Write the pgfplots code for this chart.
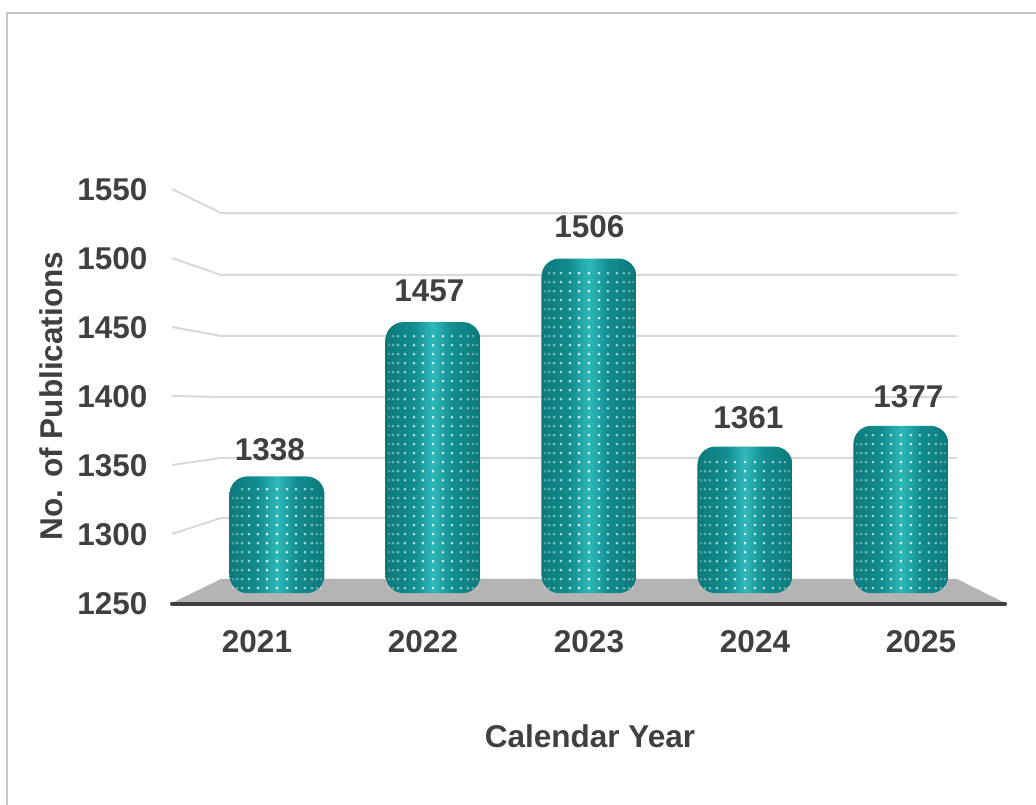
\documentclass[border=0pt]{standalone}
\usepackage{fontspec}
\setmainfont{Liberation Sans}
\usepackage{pgfplots}
\usepackage{pgfplotstable}
\pgfplotsset{compat=1.18}
\usetikzlibrary{fadings}

\definecolor{txt}{HTML}{404040}
\definecolor{gridc}{HTML}{D9D9D9}
\definecolor{floorc}{HTML}{B4B4B4}
\definecolor{frame}{HTML}{C8C8C8}
\definecolor{tealA}{HTML}{063F40}
\definecolor{tealB}{HTML}{0A5859}
\definecolor{tealC}{HTML}{0C7476}
\definecolor{tealD}{HTML}{128E90}
\definecolor{tealE}{HTML}{2FB8B9}

\pgfdeclarehorizontalshading{barshade}{100bp}{
  color(0bp)=(tealA); color(6bp)=(tealB); color(22bp)=(tealC);
  color(40bp)=(tealD); color(50bp)=(tealE); color(60bp)=(tealD);
  color(78bp)=(tealC); color(94bp)=(tealB); color(100bp)=(tealA)}
\pgfdeclareverticalshading{bevelmask}{100bp}{
  color(0bp)=(pgftransparent!35); color(6bp)=(pgftransparent!100);
  color(94bp)=(pgftransparent!100); color(100bp)=(pgftransparent!35)}
\begin{tikzfadingfrompicture}[name=bevel]
  \shade[shading=bevelmask] (-50bp,-50bp) rectangle (50bp,50bp);
\end{tikzfadingfrompicture}

% year, publications, label offset from bar top (in px)
\pgfplotstableread{
year n    dx   dy
2021 1338 -7   27
2022 1457 -3.5 31
2023 1506 0.5  32
2024 1361 3.5  29
2025 1377 7.5  29
}\bars

% one bar per plot, so that the shading fits each bar and not the whole row
\newcommand\onebar[1]{%
  \addplot[ybar, bar width=95pt, draw=none, shade, shading=barshade, rounded corners=18pt,
    restrict x to domain=#1:#1]
    table[x=year, y expr=\thisrow{n}-1248] {\bars};
  \addplot[ybar, bar width=95pt, draw=none, fill=tealA, path fading=bevel, fit fading=true,
    rounded corners=18pt, restrict x to domain=#1:#1]
    table[x=year, y expr=\thisrow{n}-1248] {\bars};}

\newcommand\dotcol[3]{%
  \addplot[ycomb, mark=none, draw=white, opacity=#2, line width=2.8pt,
    line cap=round, dash pattern=on 0pt off 9pt, dash phase=4pt]
    table[x expr=\thisrow{year}+#1/156, y expr=\thisrow{n}-1248-#3] {\bars};}

\begin{document}
\begin{tikzpicture}[x=1pt,y=1pt]
\path[use as bounding box] (0,0) rectangle (1036,805);
\draw[frame, line width=2pt] (7,0) -- (7,792) -- (1036,792);

% front plane: value axis, floor and gridlines
\begin{axis}[
  at={(172pt,202pt)}, anchor=south west,
  scale only axis, width=833pt, height=414pt,
  xmin=2020.494, xmax=2025.512,
  ymin=1250, ymax=1550,
  clip=false,
  axis y line*=left, axis x line*=bottom,
  axis line style={draw=none},
  major tick length=0pt,
  xtick={2021,2022,2023,2024,2025},
  ytick={1250,1300,1350,1400,1450,1500,1550},
  /pgf/number format/assume math mode=true,
  /pgf/number format/1000 sep={},
  tick label style={font=\fontsize{31.5}{36}\selectfont\bfseries, text=txt},
  yticklabel style={xshift=-21pt, yshift=-0.5pt},
  xticklabel style={yshift=-24pt, xshift=1pt},
  xlabel={Calendar Year},
  ylabel={No. of Publications},
  label style={font=\fontsize{31.5}{36}\selectfont\bfseries, text=txt},
  xlabel style={at={(axis description cs:0.5,0)}, anchor=center, yshift=-133pt, xshift=1.5pt},
  ylabel style={at={(axis description cs:0,0.5)}, anchor=center, yshift=121pt},
]
\addplot[fill=floorc, draw=none] coordinates {
  (2020.494,1250) (2020.789,1267.4) (2025.223,1267.4) (2025.512,1250)} -- cycle;
% back wall lines
\addplot[gridc, line width=2pt] coordinates {(2020.494,1300) (2020.789,1311.6) (2025.223,1311.6)};
\addplot[gridc, line width=2pt] coordinates {(2020.494,1350) (2020.789,1355.1) (2025.223,1355.1)};
\addplot[gridc, line width=2pt] coordinates {(2020.494,1400) (2020.789,1399.3) (2025.223,1399.3)};
\addplot[gridc, line width=2pt] coordinates {(2020.494,1450) (2020.789,1443.5) (2025.223,1443.5)};
\addplot[gridc, line width=2pt] coordinates {(2020.494,1500) (2020.789,1487.7) (2025.223,1487.7)};
\addplot[gridc, line width=2pt] coordinates {(2020.494,1550) (2020.789,1532.6) (2025.223,1532.6)};
% front edge of the floor
\addplot[txt, line width=4pt, line cap=round] coordinates {(2020.494,1249.6) (2025.512,1249.6)};
\end{axis}

% bar plane, further back than the tick labels, so its own scale
\begin{axis}[
  at={(172pt,202pt)}, anchor=south west,
  scale only axis, width=833pt, height=414pt,
  xmin=2020.327, xmax=2025.667,
  ymin=-7.6, ymax=311.6,
  clip=false, hide axis,
  /pgf/number format/1000 sep={},
]
\onebar{2021}
\onebar{2022}
\onebar{2023}
\onebar{2024}
\onebar{2025}
\dotcol{0}{.9}{6}
\dotcol{10}{.85}{6}\dotcol{-10}{.85}{6}
\dotcol{19}{.75}{6}\dotcol{-19}{.75}{6}
\dotcol{28}{.65}{6}\dotcol{-28}{.65}{6}
\dotcol{35}{.5}{7}\dotcol{-35}{.5}{7}
\dotcol{40}{.4}{10}\dotcol{-40}{.4}{10}
\dotcol{44}{.3}{12}\dotcol{-44}{.3}{12}
\addplot[draw=none, mark=none, point meta=explicit,
  visualization depends on=\thisrow{dx}\as\dxv,
  visualization depends on=\thisrow{dy}\as\dyv,
  nodes near coords,
  every node near coord/.append style={anchor=center, xshift=\dxv pt, yshift=\dyv pt,
    font=\fontsize{31.5}{36}\selectfont\bfseries, text=txt,
    /pgf/number format/assume math mode=true}]
  table[x=year, y expr=\thisrow{n}-1248, meta=n] {\bars};
\end{axis}
\end{tikzpicture}
\end{document}
